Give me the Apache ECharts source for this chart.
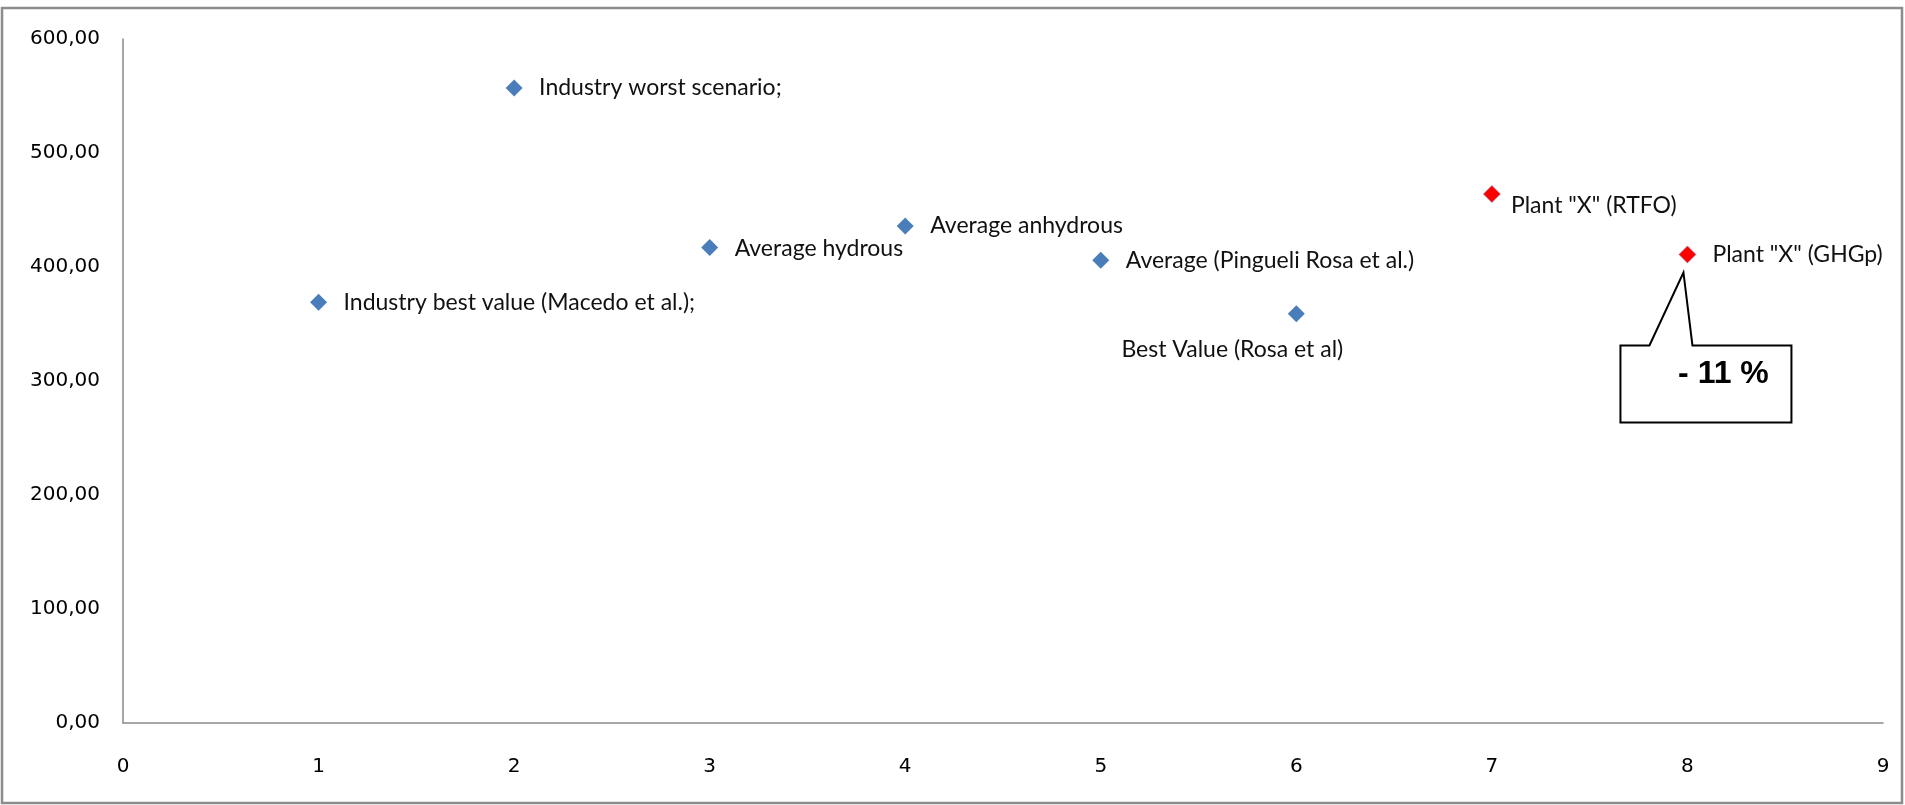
<!DOCTYPE html>
<html>
<head>
<meta charset="utf-8">
<script src="https://cdn.jsdelivr.net/npm/echarts@6/dist/echarts.min.js"></script>
<style>
html,body{margin:0;padding:0;background:#fff;}
#chart{width:1905px;height:805px;}
</style>
</head>
<body>
<div id="chart"></div>
<script>
// ---- data ----
const pointNames = [
  'Industry best value (Macedo et al.);',
  'Industry worst scenario;',
  'Average hydrous',
  'Average anhydrous',
  'Average (Pingueli Rosa et al.)',
  'Best Value (Rosa et al)',
  'Plant "X" (RTFO)',
  'Plant "X" (GHGp)'
];
const xValues = [1, 2, 3, 4, 5, 6, 7, 8];
const yValues = [369, 557, 417, 436, 406, 359, 464, 411];
const isPlant = [false, false, false, false, false, false, true, true];
const calloutText = '- 11 %';
const calloutIndex = 7;

// ---- label placement (style only) ----
const labelOffsets = [
  [25, 0], [25, 0], [25, 1], [25, 0], [25, 0], [-64, 36], [19, 12], [25, 0]
];
const labelAlign = ['left','left','left','left','left','center','left','left'];

function buildData(flag) {
  const out = [];
  for (let i = 0; i < xValues.length; i++) {
    if (isPlant[i] !== flag) continue;
    out.push({
      value: [xValues[i], yValues[i]],
      name: pointNames[i],
      label: { offset: labelOffsets[i], align: labelAlign[i] }
    });
  }
  return out;
}

const labelStyle = {
  show: true,
  position: 'inside',
  formatter: p => p.name,
  fontFamily: 'Lato',
  fontSize: 23,
  color: '#111',
  verticalAlign: 'middle'
};

const chart = echarts.init(document.getElementById('chart'));
chart.setOption({
  animation: false,
  backgroundColor: '#fff',
  grid: { left: 123, right: 22, top: 39, bottom: 82, containLabel: false },
  xAxis: {
    type: 'value', min: 0, max: 9, interval: 1,
    axisLine: { show: true, onZero: false, lineStyle: { color: '#8a8a8a', width: 1.5 } },
    axisTick: { show: false },
    splitLine: { show: false },
    axisLabel: { margin: 34, fontFamily: 'DejaVu Sans', fontSize: 20, color: '#000' }
  },
  yAxis: {
    type: 'value', min: 0, max: 600, interval: 100,
    axisLine: { show: true, lineStyle: { color: '#8a8a8a', width: 1.5 } },
    axisTick: { show: false },
    splitLine: { show: false },
    axisLabel: {
      margin: 23, fontFamily: 'DejaVu Sans', fontSize: 20, color: '#000',
      formatter: v => v.toFixed(2).replace('.', ',')
    }
  },
  series: [
    {
      type: 'scatter', symbol: 'diamond', symbolSize: 17,
      itemStyle: { color: '#4A7EBB', opacity: 1 },
      label: labelStyle,
      data: buildData(false)
    },
    {
      type: 'scatter', symbol: 'diamond', symbolSize: 17,
      itemStyle: { color: '#FF0000', opacity: 1, borderColor: '#8a7fa8', borderWidth: 0.6 },
      label: labelStyle,
      data: buildData(true)
    }
  ]
});

// callout anchored at the highlighted point
const p = chart.convertToPixel({ gridIndex: 0 }, [xValues[calloutIndex], yValues[calloutIndex]]);
const px = p[0], py = p[1];
const boxTop = py + 91, boxBottom = py + 168, boxLeft = px - 67, boxRight = px + 104;
chart.setOption({
  graphic: [
    {
      type: 'rect', silent: true,
      shape: { x: 2, y: 8, width: 1900, height: 795 },
      style: { fill: 'none', stroke: '#8c8c8c', lineWidth: 2.5 }
    },
    {
      type: 'polygon', silent: true, z: 10,
      shape: { points: [
        [boxLeft, boxTop], [px - 38, boxTop], [px - 4, py + 18], [px + 5, boxTop],
        [boxRight, boxTop], [boxRight, boxBottom], [boxLeft, boxBottom]
      ] },
      style: { fill: '#fff', stroke: '#000', lineWidth: 2 }
    },
    {
      type: 'text', silent: true, z: 11,
      x: px + 36, y: py + 120,
      style: {
        text: calloutText, fontFamily: 'Liberation Sans', fontWeight: 'bold', fontSize: 32,
        fill: '#000', align: 'center', verticalAlign: 'middle'
      }
    }
  ]
});
</script>
</body>
</html>
